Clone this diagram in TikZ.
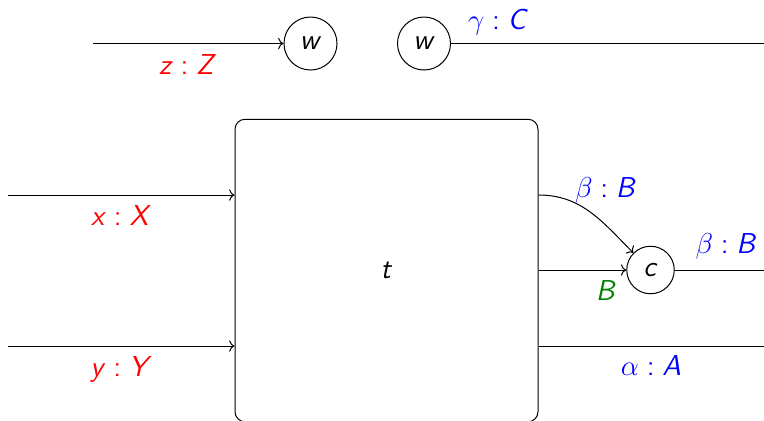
\documentclass[tikz,border=0pt]{standalone}
\usetikzlibrary{arrows.meta}
% sans italic variable names
\newcommand\sv[1]{\textsf{\textit{#1}}}
\newcommand\typesep{\hspace{0.27em}\textsf{:}\hspace{0.27em}}
\definecolor{labred}{RGB}{255,0,0}
\definecolor{labblue}{RGB}{0,0,255}
\definecolor{labgreen}{RGB}{0,128,0}
\begin{document}
\begin{tikzpicture}[x=0.5pt,y=-0.5pt,line width=0.5pt,
  every node/.style={font=\fontsize{14.4}{17}\selectfont},
  gate/.style={circle,draw,inner sep=0pt},
  lab/.style={anchor=base},
  inlab/.style={lab,text=labred},
  outlab/.style={lab,text=labblue},
  typelab/.style={lab,text=labgreen},
  wire/.style={draw},
  feed/.style={draw,->}]
\useasboundingbox (0,0) rectangle (764,420);

% top row: the two w gates
\node[gate,minimum size=26.5pt] (w1) at (310.5,43.5) {\sv{w}};
\node[gate,minimum size=26.5pt] (w2) at (424,43.5) {\sv{w}};
\coordinate (zin) at (93,43.5);
\coordinate (gout) at (764,43.5);
\draw[feed] (zin) -- (w1);
\draw[wire] (w2) -- (gout);
\node[inlab] (zl) at (187.5,74) {\sv{z}\typesep\sv{Z}};
\node[outlab] (gl) at (498,29.3) {$\gamma$\typesep\sv{C}};

% main block (its lower edge runs just past the page)
\node[draw,rounded corners=5pt,minimum width=151.5pt,minimum height=151.25pt,inner sep=0pt]
  (t) at (386.5,270.5) {\sv{t}};

% inputs
\coordinate (xin) at (8,195);
\coordinate (yin) at (8,346);
\draw[feed] (xin) -- (xin -| t.west);
\draw[feed] (yin) -- (yin -| t.west);
\node[inlab] (xl) at (121,225) {\sv{x}\typesep\sv{X}};
\node[inlab] (yl) at (121,376) {\sv{y}\typesep\sv{Y}};

% copy gate c and outputs
\node[gate,minimum size=23.75pt] (c) at (650.5,270) {\sv{c}};
\coordinate (bout) at (t.east |- 0,195);
\coordinate (mout) at (t.east |- 0,270);
\coordinate (aout) at (t.east |- 0,346);
\coordinate (cend) at (764,270);
\coordinate (aend) at (764,346);
\draw[feed] (bout) to[out=0,in=135] (c);
\draw[feed] (mout) -- (c);
\draw[wire] (c) -- (cend);
\draw[wire] (aout) -- (aend);
\node[outlab] (bl1) at (605.5,197.3) {$\beta$\typesep\sv{B}};
\node[typelab] (bl2) at (606,300) {\sv{B}};
\node[outlab] (bl3) at (726,253.3) {$\beta$\typesep\sv{B}};
\node[outlab] (al) at (651,375) {$\alpha$\typesep\sv{A}};
\end{tikzpicture}
\end{document}
